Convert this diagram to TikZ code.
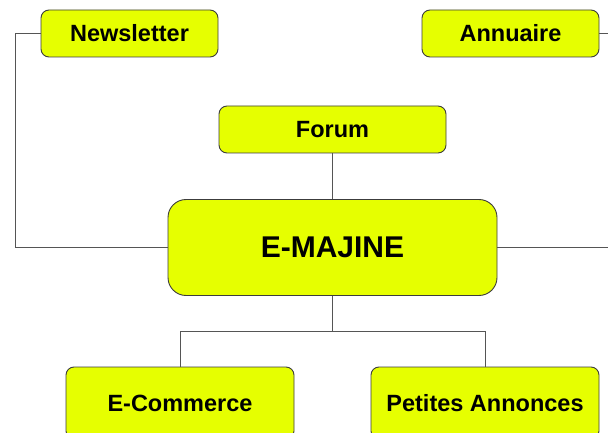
\documentclass[tikz,border=0pt]{standalone}
\usepackage{fontspec}
\setmainfont{Liberation Sans}
\usepackage{xcolor}
\usepackage{tikz}
\usetikzlibrary{positioning,calc}
\definecolor{boxfill}{RGB}{230,255,0}
\definecolor{boxline}{RGB}{60,60,60}
\definecolor{wire}{RGB}{85,85,85}

\begin{document}
\begin{tikzpicture}[x=1pt, y=-1pt]
\tikzstyle{topic}=[draw=boxline, line width=0.9pt, rounded corners=8pt, fill=boxfill, minimum height=47pt, font=\fontsize{23.5}{26}\selectfont\bfseries, inner sep=0pt]
\tikzstyle{hub}=[topic, rounded corners=18pt, minimum width=329pt, minimum height=96pt, font=\fontsize{30}{33}\selectfont\bfseries]
\tikzstyle{wire}=[draw=wire, line width=0.9pt]
\useasboundingbox (0,0) rectangle (608,433);
\clip (0,0) rectangle (608,433);

\node[hub] (main) at (332.5,247.5) {E-MAJINE};
\node[topic, minimum width=177pt] (news) at (129.5,33.5) {Newsletter};
\node[topic, minimum width=177pt] (annu) at (510.5,33.5) {Annuaire};
\node[topic, minimum width=227pt] (forum) at (332.5,129.5) {Forum};
\node[topic, minimum width=228pt, minimum height=72pt] (ecom) at (180,403) {E-Commerce};
\node[topic, minimum width=228pt, minimum height=72pt] (pa) at (485,403) {Petites Annonces};

\coordinate (lbend) at (15,0);
\coordinate (rbend) at (625,0);
\coordinate (split) at (332.5,331);

\draw[wire] (news.west) -- (news.west -| lbend) -- (main.west -| lbend) -- (main.west);
\draw[wire] (annu.east) -- (annu.east -| rbend) -- (main.east -| rbend) -- (main.east);
\draw[wire] (forum.south) -- (main.north);
\draw[wire] (main.south) -- (split) -| (ecom.north);
\draw[wire] (split) -| (pa.north);
\end{tikzpicture}
\end{document}
